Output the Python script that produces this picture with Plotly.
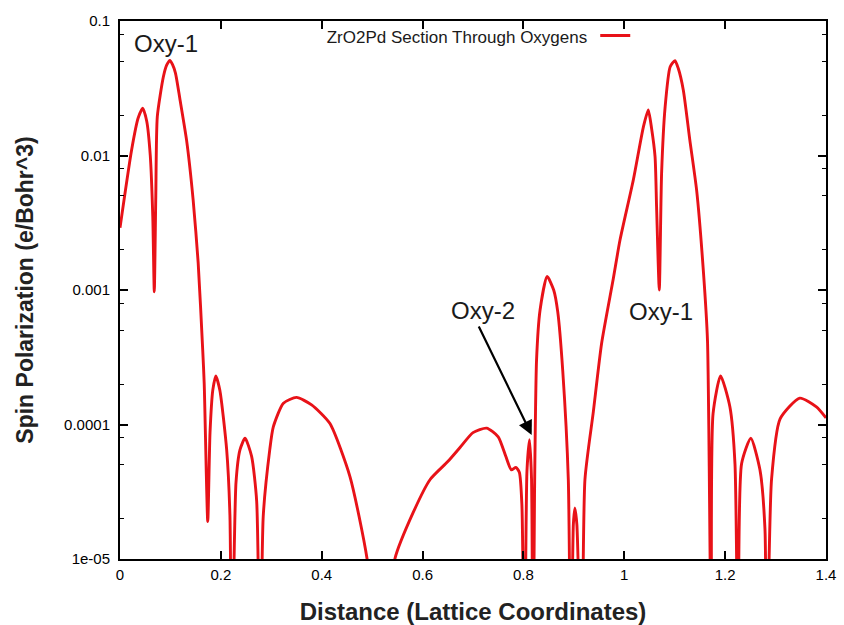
import numpy as np
import plotly.graph_objects as go

series_name = "ZrO2Pd Section Through Oxygens"

distance = [
    0.000, 0.023, 0.036, 0.045, 0.053, 0.060, 0.065, 0.068, 0.071, 0.074,
    0.086, 0.0925, 0.099, 0.104, 0.110, 0.119, 0.132, 0.145, 0.155, 0.164, 0.167, 0.174,
    0.1785, 0.184, 0.190, 0.198, 0.2115, 0.218, 0.2215, 0.230, 0.238, 0.248,
    0.261, 0.271, 0.278, 0.284, 0.297, 0.304, 0.324, 0.350, 0.380, 0.416,
    0.456, 0.490, 0.517, 0.545, 0.581, 0.615, 0.650, 0.675, 0.700, 0.727, 0.750,
    0.765, 0.776, 0.785, 0.792, 0.797, 0.802, 0.807, 0.812, 0.816, 0.819,
    0.822, 0.826, 0.833, 0.847, 0.860, 0.868, 0.878, 0.889, 0.894, 0.899,
    0.902, 0.906, 0.9155, 0.922, 0.9386, 0.955, 0.978, 0.9915, 1.018, 1.038,
    1.0476, 1.054, 1.061, 1.064, 1.0694, 1.074, 1.081, 1.091, 1.1005, 1.107, 1.117,
    1.130, 1.1435, 1.157, 1.165, 1.173, 1.176, 1.191, 1.2095, 1.2195, 1.226,
    1.2326, 1.251, 1.269, 1.279, 1.282, 1.292, 1.309, 1.348, 1.381, 1.400,
]

spin_pol = [
    2.9e-3, 1.1e-2, 1.9e-2, 2.25e-2, 1.8e-2, 1.0e-2, 3.5e-3, 9.7e-4, 5.0e-3, 1.95e-2,
    3.85e-2, 4.7e-2, 5.1e-2, 4.75e-2, 4.1e-2, 2.6e-2, 1.3e-2, 4.7e-3, 1.6e-3, 3.6e-4, 2.0e-4, 1.9e-5,
    8.7e-5, 1.8e-4, 2.3e-4, 1.8e-4, 6.5e-5, 2.1e-5, 1e-6, 3.7e-5, 6.5e-5, 7.9e-5,
    5.8e-5, 2.7e-5, 1e-6, 2.07e-5, 6.5e-5, 9.6e-5, 1.44e-4, 1.59e-4, 1.4e-4, 1.02e-4,
    4.1e-5, 1.0e-5, 1e-6, 1.0e-5, 2.2e-5, 3.9e-5, 5.3e-5, 6.8e-5, 8.7e-5, 9.4e-5, 8.1e-5,
    5.8e-5, 4.6e-5, 4.8e-5, 4.4e-5, 2.5e-5, 1e-6, 4.5e-5, 7.7e-5, 4.0e-5, 1e-6,
    3.0e-5, 3.0e-4, 7.1e-4, 1.26e-3, 1.0e-3, 6.9e-4, 2.5e-4, 3.9e-5, 1e-6, 1.8e-5,
    2.4e-5, 1.8e-5, 1e-6, 3.9e-5, 1.24e-4, 4.0e-4, 1.2e-3, 2.35e-3, 6.6e-3, 1.64e-2,
    2.18e-2, 1.6e-2, 9.8e-3, 4.2e-3, 1.0e-3, 7.4e-3, 2.3e-2, 4.57e-2, 5.07e-2, 4.45e-2, 3.07e-2,
    1.3e-2, 5.5e-3, 1.35e-3, 4.2e-4, 1e-6, 1.2e-4, 2.3e-4, 1.35e-4, 5.1e-5, 1e-6,
    5.1e-5, 7.9e-5, 4.6e-5, 1.66e-5, 1e-6, 3.9e-5, 1.1e-4, 1.57e-4, 1.35e-4, 1.12e-4,
]

x_tickvals = [0, 0.2, 0.4, 0.6, 0.8, 1.0, 1.2, 1.4]
x_ticktext = ["0", "0.2", "0.4", "0.6", "0.8", "1", "1.2", "1.4"]
y_tickvals = [1e-5, 1e-4, 1e-3, 1e-2, 1e-1]
y_ticktext = ["1e-05", "0.0001", "0.001", "0.01", "0.1"]
y_minor = [m * 10.0 ** e for e in range(-5, -1) for m in (2, 5, 8)]

# labels: (text, x, y)
labels = [
    ("Oxy-1", 0.091, 0.068),
    ("Oxy-1", 1.073, 6.9e-4),
    ("Oxy-2", 0.72, 7.0e-4),
]
arrow_tip = (0.8164, 8.35e-5)
arrow_tail = (0.710, 5.5e-4)

RED = "rgb(232,18,24)"
FONT = "Liberation Sans"

fig = go.Figure()
fig.add_trace(go.Scatter(
    x=distance, y=spin_pol, mode="lines", name=" ",
    line=dict(color=RED, width=2.9, shape="spline", smoothing=0.6),
    showlegend=True,
))

for txt, lx, ly in labels:
    fig.add_annotation(x=lx, y=np.log10(ly), xref="x", yref="y", text=txt,
                       showarrow=False, font=dict(family=FONT, size=24, color="#1a1a1a"))

fig.add_annotation(x=arrow_tip[0], y=np.log10(arrow_tip[1]), xref="x", yref="y",
                   ax=arrow_tail[0], ay=np.log10(arrow_tail[1]), axref="x", ayref="y",
                   text="", showarrow=True, arrowhead=2, arrowsize=1.3, arrowwidth=2.2,
                   arrowcolor="black")

fig.update_layout(
    width=844, height=625,
    margin=dict(l=120, r=18, t=21, b=66, autoexpand=False),
    paper_bgcolor="white", plot_bgcolor="white",
    font=dict(family=FONT, color="black"),
    showlegend=True,
    legend=dict(
        x=0.29, y=1.0, xanchor="left", yanchor="top",
        bgcolor="rgba(0,0,0,0)",
        title=dict(text=series_name, side="left", font=dict(family=FONT, size=17, color="#1a1a1a")),
        font=dict(size=4), itemwidth=30,
    ),
    xaxis=dict(
        range=[0, 1.4], tickmode="array", tickvals=x_tickvals, ticktext=x_ticktext,
        ticks="inside", ticklen=8, tickwidth=1.5, tickcolor="black",
        showline=True, linecolor="black", linewidth=2, mirror="allticks",
        showgrid=False, zeroline=False, ticklabelstandoff=1, automargin=False,
        tickfont=dict(family=FONT, size=15, color="black"),
        title=dict(text="<b>Distance (Lattice Coordinates)</b>", standoff=24,
                   font=dict(family=FONT, size=24, color="#222")),
    ),
    yaxis=dict(
        type="log", range=[-5, -1], tickmode="array", tickvals=y_tickvals, ticktext=y_ticktext,
        ticks="inside", ticklen=8, tickwidth=1.5, tickcolor="black",
        showline=True, linecolor="black", linewidth=2, mirror="allticks",
        showgrid=False, zeroline=False, ticklabelstandoff=5, automargin=False,
        minor=dict(tickmode="array", tickvals=y_minor, ticks="inside", ticklen=4,
                   tickwidth=1, tickcolor="black", showgrid=False),
        tickfont=dict(family=FONT, size=15, color="black"),
        title=dict(text="<b>Spin Polarization (e/Bohr^3)</b>", standoff=24,
                   font=dict(family=FONT, size=23, color="#222")),
    ),
)

fig.write_html("out.html", config={"displayModeBar": False},
               post_script="document.body.style.margin='0';document.body.style.overflow='hidden';")
